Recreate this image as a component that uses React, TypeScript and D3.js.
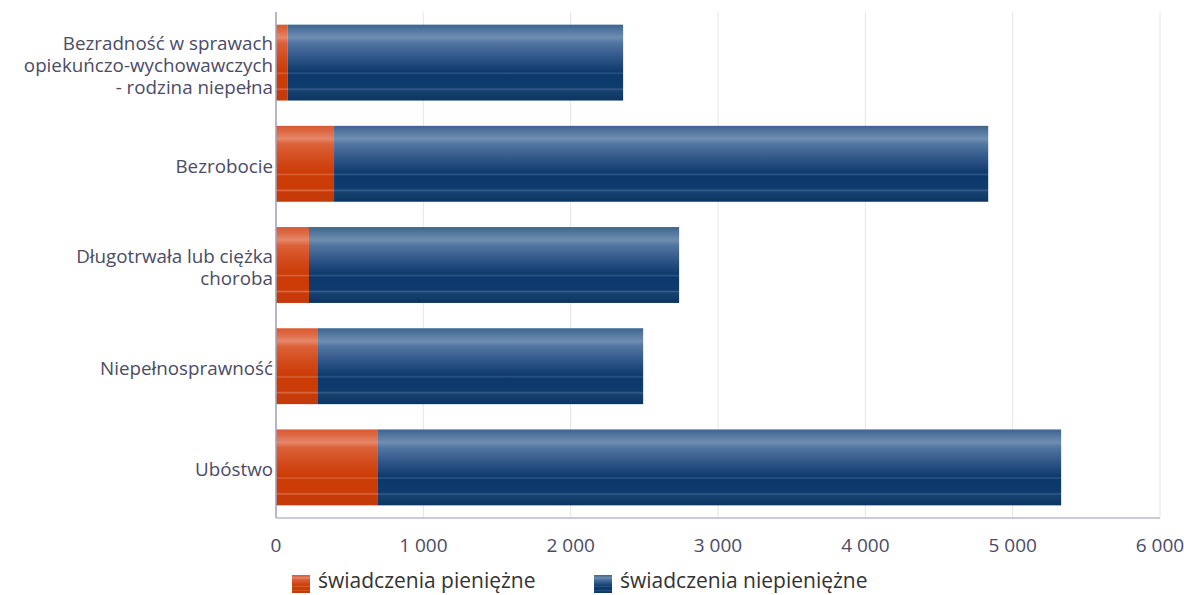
import React from "react";
import * as d3 from "d3";

const categories = [
  ["Bezradność w sprawach", "opiekuńczo-wychowawczych", "- rodzina niepełna"],
  ["Bezrobocie"],
  ["Długotrwała lub ciężka", "choroba"],
  ["Niepełnosprawność"],
  ["Ubóstwo"],
];
const cashValues = [80, 394, 224, 285, 692];
const nonCashValues = [2276, 4440, 2512, 2207, 4637];
const xTicks = [0, 1000, 2000, 3000, 4000, 5000, 6000];
const seriesNames = ["świadczenia pieniężne", "świadczenia niepieniężne"];

const W = 1184, H = 595;
const left = 276, right = 1160, top = 12, bottom = 518;

const blueStops: [number, string][] = [
  [0, "#3d6490"], [0.08, "#55789f"], [0.17, "#6f8eb1"], [0.24, "#5276a2"],
  [0.45, "#2c5386"], [0.62, "#0f3a6c"], [0.64, "#2a5587"], [0.66, "#0c386b"],
  [0.83, "#0f3c6e"], [0.85, "#365c8a"], [0.87, "#17426f"], [1, "#0b3463"],
];
const redStops: [number, string][] = [
  [0, "#d95a32"], [0.08, "#dd6a45"], [0.17, "#e6876a"], [0.24, "#dc6138"],
  [0.45, "#d24a1a"], [0.62, "#cc3b05"], [0.64, "#d66238"], [0.66, "#cc3b05"],
  [0.83, "#cb3c08"], [0.85, "#dc6a45"], [0.87, "#c83a08"], [1, "#c43a0a"],
];

const fmt = (v: number) => d3.format(",")(v).replace(/,/g, " ");

export default function App() {
  const x = d3.scaleLinear().domain([0, 6000]).range([left, right]);
  const y = d3
    .scaleBand<number>()
    .domain(categories.map((_, i) => i))
    .range([top, bottom])
    .paddingInner(0.25)
    .paddingOuter(0.125);
  const font = "'Open Sans', 'Noto Sans', sans-serif";
  const textColor = "#4b4b66";
  return (
    <svg width={W} height={H} style={{ position: "absolute", left: 0, top: 0 }}>
      <defs>
        <linearGradient id="gBlue" x1="0" y1="0" x2="0" y2="1">
          {blueStops.map(([o, c], i) => (
            <stop key={i} offset={o} stopColor={c} />
          ))}
        </linearGradient>
        <linearGradient id="gRed" x1="0" y1="0" x2="0" y2="1">
          {redStops.map(([o, c], i) => (
            <stop key={i} offset={o} stopColor={c} />
          ))}
        </linearGradient>
      </defs>
      <rect width={W} height={H} fill="#fff" />
      {xTicks.map((t) => (
        <line key={t} x1={x(t)} x2={x(t)} y1={top} y2={bottom} stroke="#e4e4ec" strokeWidth={1} />
      ))}
      {categories.map((lines, i) => {
        const y0 = y(i)!;
        const bh = y.bandwidth();
        const cy = y0 + bh / 2 + 2.5;
        const lh = 22;
        return (
          <g key={i}>
            <rect x={x(0)} y={y0} width={x(cashValues[i]) - x(0)} height={bh} fill="url(#gRed)" />
            <rect
              x={x(cashValues[i])}
              y={y0}
              width={x(cashValues[i] + nonCashValues[i]) - x(cashValues[i])}
              height={bh}
              fill="url(#gBlue)"
            />
            {lines.map((l, j) => (
              <text
                key={j}
                x={273}
                y={cy + (j - (lines.length - 1) / 2) * lh}
                dy="0.35em"
                textAnchor="end"
                fontFamily={font}
                fontSize={18.8}
                fill={textColor}
              >
                {l}
              </text>
            ))}
          </g>
        );
      })}
      <line x1={left} x2={left} y1={top} y2={bottom} stroke="#a0a0c0" strokeWidth={1.5} />
      <line x1={left} x2={right} y1={bottom} y2={bottom} stroke="#b8b8d0" strokeWidth={1.5} />
      {xTicks.map((t) => (
        <text
          key={t}
          x={x(t)}
          y={545}
          dy="0.35em"
          textAnchor="middle"
          fontFamily={font}
          fontSize={19}
          fill={textColor}
        >
          {fmt(t)}
        </text>
      ))}
      <rect x={292} y={575} width={18} height={18} fill="url(#gRed)" />
      <text x={318} y={588} fontFamily={font} fontSize={21} fill="#333">
        {seriesNames[0]}
      </text>
      <rect x={594} y={575} width={18} height={18} fill="url(#gBlue)" />
      <text x={620} y={588} fontFamily={font} fontSize={21} fill="#333">
        {seriesNames[1]}
      </text>
    </svg>
  );
}
